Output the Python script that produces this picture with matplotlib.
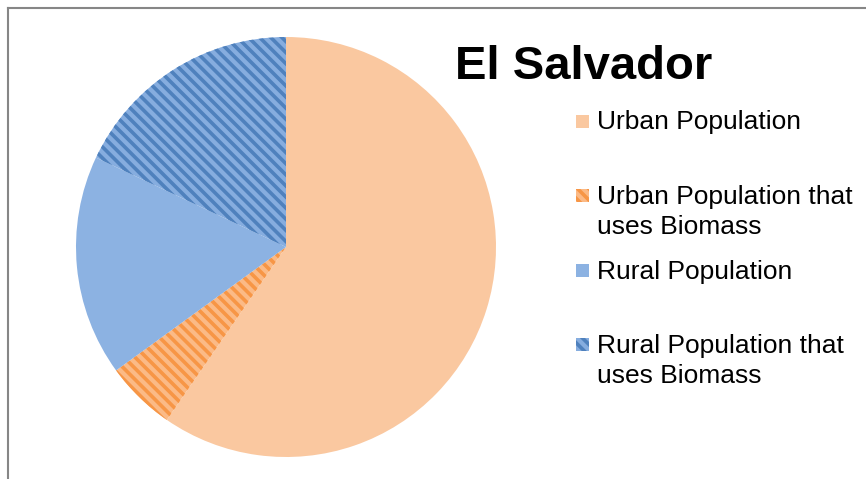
import matplotlib.pyplot as plt
from matplotlib.patches import Rectangle
from matplotlib.lines import Line2D

plt.rcParams['font.family'] = ['Liberation Sans', 'DejaVu Sans']
plt.rcParams['hatch.linewidth'] = 2.6

W, H = 866, 479

title = 'El Salvador'
labels = ['Urban Population',
          'Urban Population that\nuses Biomass',
          'Rural Population',
          'Rural Population that\nuses Biomass']
values = [59.6, 5.4, 17.0, 18.0]
face_colors = ['#FAC8A0', '#FBBA86', '#8CB2E2', '#86ADDF']
stripe_colors = ['#FAC8A0', '#F79646', '#8CB2E2', '#4F81BD']
hatches = [None, '\\\\\\', None, '\\\\\\']

fig = plt.figure(figsize=(W / 100, H / 100), dpi=100)

# pie area: centre (286, 247), radius 210 px
cx, cy, r = 286, 247, 210
ax = fig.add_axes([(cx - r) / W, (H - cy - r) / H, 2 * r / W, 2 * r / H])
wedges, _ = ax.pie(values, startangle=90, counterclock=False, radius=1,
                   colors=face_colors, wedgeprops=dict(linewidth=0))
for w, ec, h in zip(wedges, stripe_colors, hatches):
    w.set_edgecolor(ec)
    w.set_linewidth(0)
    if h:
        w.set_hatch(h)
ax.set_xlim(-1, 1)
ax.set_ylim(-1, 1)
ax.axis('off')

# title
fig.text(584 / W, 1 - 79 / H, title, ha='center', va='baseline',
         fontsize=34, fontweight='bold', color='black')

# legend drawn by hand
base_y = 129.5
step = 74.6
line_gap = 30
for i, (lab, fc, ec, h) in enumerate(zip(labels, face_colors, stripe_colors, hatches)):
    by = base_y + i * step
    rect = Rectangle((576 / W, 1 - (by - 2) / H), 13 / W, 13 / H,
                     transform=fig.transFigure, facecolor=fc, edgecolor=ec,
                     linewidth=0, hatch=h)
    fig.add_artist(rect)
    for j, line in enumerate(lab.split('\n')):
        fig.text(597 / W, 1 - (by + j * line_gap) / H, line, ha='left',
                 va='baseline', fontsize=19, color='black')

# chart frame (cropped: only top and left edges visible)
fig.add_artist(Line2D([8 / W, 8 / W], [0, 1 - 8 / H], transform=fig.transFigure,
                      color='#868686', linewidth=1.5))
fig.add_artist(Line2D([8 / W, 1], [1 - 8 / H, 1 - 8 / H], transform=fig.transFigure,
                      color='#868686', linewidth=1.5))

fig.savefig('out.png', dpi=100)
